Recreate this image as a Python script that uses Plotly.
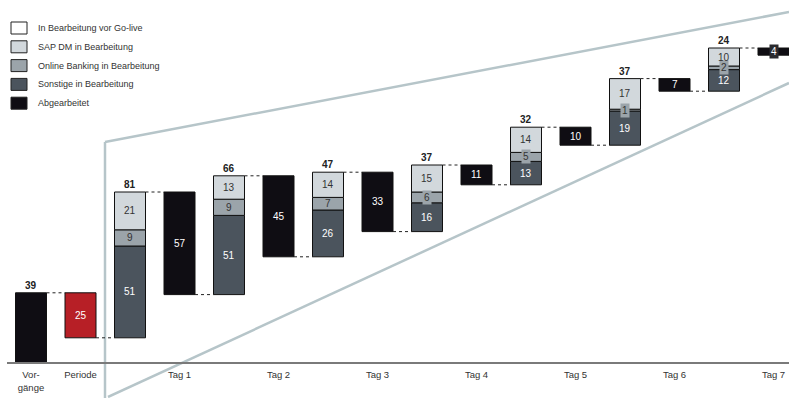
import plotly.graph_objects as go

# ---------------- data ----------------
days = ["Tag 1", "Tag 2", "Tag 3", "Tag 4", "Tag 5", "Tag 6", "Tag 7"]
vorgaenge = 39
periode = 25
sap_dm = [21, 13, 14, 15, 14, 17, 10]
online_banking = [9, 9, 7, 6, 5, 1, 2]
sonstige = [51, 44, 26, 16, 13, 19, 12]          # drawn heights
sonstige_labels = ["51", "51", "26", "16", "13", "19", "12"]  # labels as printed
totals = [81, 66, 47, 37, 32, 37, 24]
abgearbeitet = [57, 45, 33, 11, 10, 7, 4]
legend_labels = ["In Bearbeitung vor Go-live", "SAP DM in Bearbeitung",
                 "Online Banking in Bearbeitung", "Sonstige in Bearbeitung", "Abgearbeitet"]
tick_labels = ["Vor-<br>gänge", "Periode"] + days

# ---------------- styles ----------------
C_WHITE = "#ffffff"
C_SAP = "#d2d8dc"
C_ONL = "#9ba4aa"
C_SON = "#4b545d"
C_ABG = "#0f0d13"
C_RED = "#b71f26"
C_FUNNEL = "#b6c5c9"
FONT = "Liberation Sans, Arial, sans-serif"
W = 0.626
PX_PER_UNIT = 1.8
FIG_W, FIG_H = 789, 398

fig = go.Figure()
shapes = []
annotations = []

def bar(x, base, h, color, name):
    fig.add_trace(go.Bar(x=x, y=h, base=base, width=W, marker=dict(color=color, line=dict(color="#111111", width=1)),
                         name=name, showlegend=False, hoverinfo="skip"))

def label(x, y, text, color, bg=None, bold=False, size=10):
    a = dict(x=x, y=y, xref="x", yref="y", text=("<b>%s</b>" % text) if bold else text, showarrow=False,
             font=dict(family=FONT, size=size, color=color))
    if bg:
        a.update(bgcolor=bg, borderpad=1)
    annotations.append(a)

def connector(xa, xb, level):
    shapes.append(dict(type="line", xref="x", yref="y", x0=xa + W / 2, x1=xb - W / 2, y0=level, y1=level,
                       line=dict(color="#222222", width=1, dash="dot")))

# Vorgänge
bar([0], [0], [vorgaenge], C_ABG, "Vorgänge")
label(0, vorgaenge, str(vorgaenge), "#222", bold=True)
annotations[-1].update(yanchor="bottom", yshift=0)
# Periode (drawn downward from the Vorgänge level)
level = vorgaenge - periode
bar([1], [level], [periode], C_RED, "Periode")
label(1, level + periode / 2, str(periode), "white")
connector(0, 1, vorgaenge)
connector(1, 2, level)

for k in range(len(days)):
    xs = 2 + 2 * k
    xa = xs + 1
    b0 = level
    b1 = b0 + sonstige[k]
    b2 = b1 + online_banking[k]
    top = b2 + sap_dm[k]
    bar([xs], [b0], [sonstige[k]], C_SON, "Sonstige")
    bar([xs], [b1], [online_banking[k]], C_ONL, "Online Banking")
    bar([xs], [b2], [sap_dm[k]], C_SAP, "SAP DM")
    label(xs, b0 + sonstige[k] / 2, sonstige_labels[k], "white")
    small = online_banking[k] * PX_PER_UNIT < 12
    label(xs, b1 + online_banking[k] / 2, str(online_banking[k]), "#333", bg=C_ONL if small else None)
    label(xs, b2 + sap_dm[k] / 2, str(sap_dm[k]), "#333")
    label(xs, top, str(totals[k]), "#222", bold=True)
    annotations[-1].update(yanchor="bottom")
    # Abgearbeitet
    new_level = top - abgearbeitet[k]
    bar([xa], [new_level], [abgearbeitet[k]], C_ABG, "Abgearbeitet")
    small = abgearbeitet[k] * PX_PER_UNIT < 12
    label(xa, new_level + abgearbeitet[k] / 2, str(abgearbeitet[k]), "white", bg="#2a2a2e" if small else None)
    connector(xs, xa, top)
    if k < len(days) - 1:
        connector(xa, xa + 1, new_level)
    level = new_level

# funnel decoration (pixel positions -> paper)
def px(x, y):
    return x / FIG_W, 1 - y / FIG_H

for (xa_, ya_), (xb_, yb_) in [((105, 142), (105, 398)), ((105, 142), (789, 12)), ((108, 397), (789, 83))]:
    p0, p1 = px(xa_, ya_), px(xb_, yb_)
    shapes.append(dict(type="line", xref="paper", yref="paper", x0=p0[0], y0=p0[1], x1=p1[0], y1=p1[1],
                       line=dict(color=C_FUNNEL, width=2.5), layer="below"))

# legend
leg_colors = [C_WHITE, C_SAP, C_ONL, C_SON, C_ABG]
for i, (lab, col) in enumerate(zip(legend_labels, leg_colors)):
    yc = 28 + 18.8 * i
    a, b = px(11, yc - 6), px(27, yc + 6)
    shapes.append(dict(type="rect", xref="paper", yref="paper", x0=a[0], y0=b[1], x1=b[0], y1=a[1],
                       fillcolor=col, line=dict(color="#222", width=1)))
    p = px(36, yc)
    annotations.append(dict(x=p[0], y=p[1], xref="paper", yref="paper", text=lab, showarrow=False,
                            xanchor="left", yanchor="middle", font=dict(family=FONT, size=9, color="#333")))

axis_y_px = 363
fig.update_layout(
    width=FIG_W, height=FIG_H, margin=dict(l=0, r=0, t=0, b=0),
    paper_bgcolor="white", plot_bgcolor="white", barmode="overlay", showlegend=False,
    xaxis=dict(domain=[7 / FIG_W, 1], range=[-0.485, 15.313], anchor="free", position=1 - axis_y_px / FIG_H,
               showline=True, linecolor="#7a7a7a", linewidth=2, showgrid=False, zeroline=False,
               tickmode="array", tickvals=[0, 1] + [3 + 2 * k for k in range(len(days))], ticktext=tick_labels,
               ticks="", ticklabelstandoff=3, tickfont=dict(family=FONT, size=9.5, color="#333")),
    yaxis=dict(range=[-(FIG_H - axis_y_px) / PX_PER_UNIT, axis_y_px / PX_PER_UNIT], visible=False,
               showgrid=False, zeroline=False),
    shapes=shapes, annotations=annotations,
)
fig.write_html("out.html")
